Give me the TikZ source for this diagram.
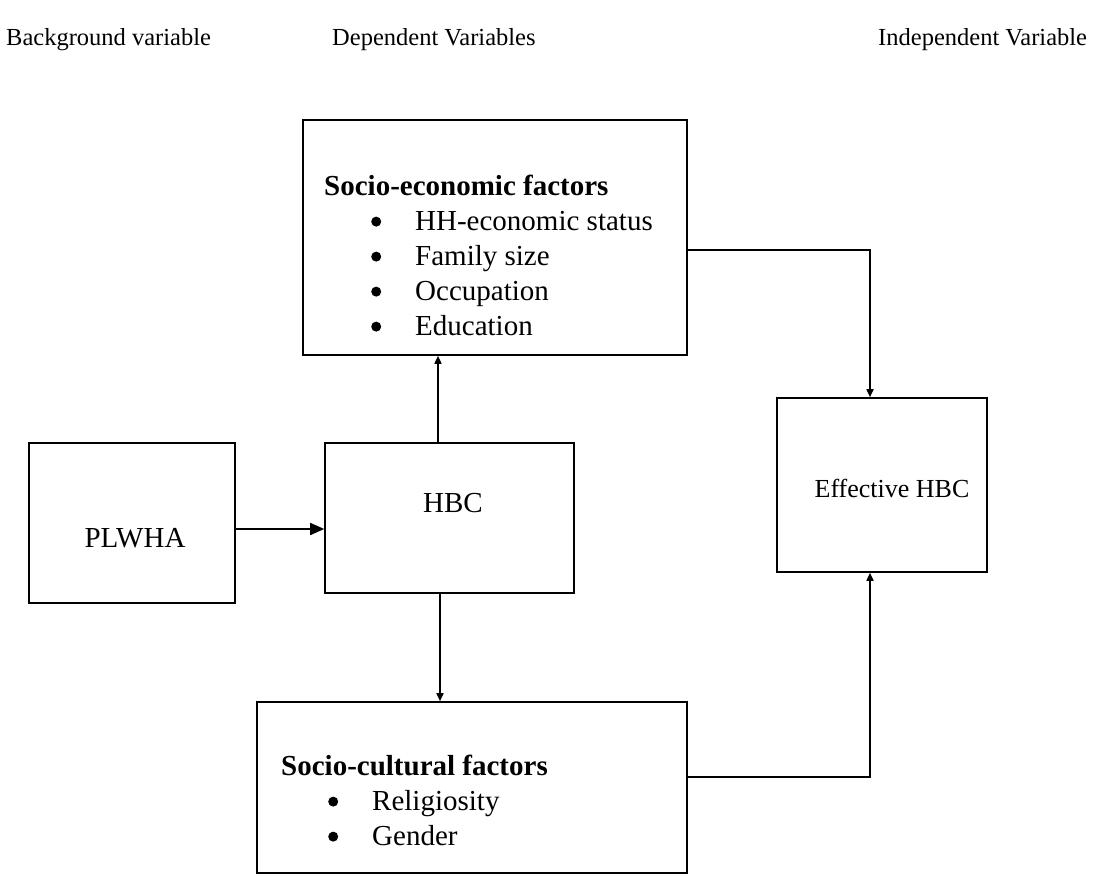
\documentclass[tikz,border=0pt]{standalone}
\usepackage{fontspec}
\setmainfont{Liberation Serif}
\usetikzlibrary{arrows.meta}
\newcommand{\bitem}[1]{\hspace*{47pt}\makebox[44pt][l]{\tikz[baseline=-9pt]\fill (5pt,0pt) circle (5pt);}#1}

\begin{document}
\begin{tikzpicture}[x=1pt,y=-1pt,
every node/.style={inner sep=0pt},
box/.style n args={2}{draw,line width=1.6pt,minimum width=#1,minimum height=#2},
txt/.style={font=\fontsize{29}{35}\selectfont},
lst/.style={txt,align=left,anchor=north west},
head/.style={font=\fontsize{24.5}{29}\selectfont,anchor=base west},
arr/.style={-{Triangle[length=8pt,width=7pt]},line width=1.6pt},
arrbig/.style={-{Triangle[length=14pt,width=12pt]},line width=1.6pt}
]
\useasboundingbox (0,0) rectangle (1102,875);
% column titles
\node[head] (bg) at (6,46) {Background variable};
\node[head] (dep) at (332,46) {Dependent Variables};
\node[head] (ind) at (878,46) {Independent Variable};
% boxes
\node[box={384pt}{235pt}] (se) at (495,237.5) {};
\node[box={249pt}{150pt}] (hbc) at (449.5,518) {};
\node[box={206pt}{160pt}] (pl) at (132,523) {};
\node[box={210pt}{174pt}] (eff) at (882,485) {};
\node[box={430pt}{171pt}] (sc) at (472,787.5) {};
% texts
\node[txt] (plT) at (135,538) {PLWHA};
\node[txt] (hbcT) at (453,503) {HBC};
\node[txt,font=\fontsize{26}{30}\selectfont] (effT) at (892,488) {Effective HBC};
\node[lst] (seT) at (324,175) {\textbf{Socio-economic factors}\\
\bitem{HH-economic status}\\ \bitem{Family size}\\ \bitem{Occupation}\\ \bitem{Education}};
\node[lst] (scT) at (281,755) {\textbf{Socio-cultural factors}\\
\bitem{Religiosity}\\ \bitem{Gender}};
% links
\draw[arrbig] ([yshift=-6pt]pl.east) -- ([yshift=-11pt]hbc.west);
\draw[arr] ([xshift=-11.5pt]hbc.north) coordinate (h1) -- (h1 |- se.south);
\draw[arr] ([xshift=-9.5pt]hbc.south) coordinate (h2) -- (h2 |- sc.north);
\draw[arr] ([yshift=-12.5pt]se.east) -| ([xshift=-12pt]eff.north);
\draw[arr] ([yshift=10.5pt]sc.east) -| ([xshift=-12pt]eff.south);
\end{tikzpicture}
\end{document}
